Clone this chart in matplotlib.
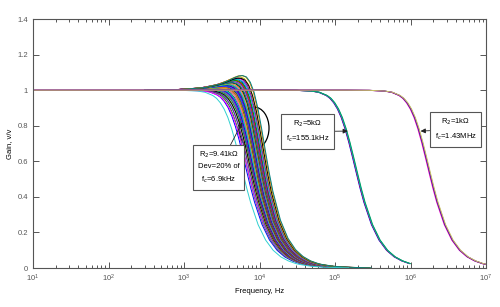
import matplotlib
matplotlib.use("Agg")
import matplotlib.pyplot as plt
from matplotlib.patches import Ellipse
from matplotlib.ticker import FuncFormatter, LogLocator, MultipleLocator
import numpy as np

plt.rcParams["font.family"] = ["Liberation Sans", "DejaVu Sans"]

# normalised low-pass response: log10(f/f0) -> gain
shape_logu = [-6.0, -1.0, -0.7, -0.5, -0.4, -0.3, -0.25, -0.2, -0.15, -0.1, -0.05,
              0.0, 0.05, 0.1, 0.15, 0.2, 0.3, 0.4, 0.5, 0.6, 0.7, 0.8, 0.85,
              1.0, 1.2, 1.5]
shape_flat = [1.0, 1.0, 0.999, 0.995, 0.988, 0.970, 0.954, 0.929, 0.894, 0.846, 0.783,
              0.707, 0.622, 0.534, 0.448, 0.370, 0.244, 0.157, 0.0995, 0.063, 0.040,
              0.025, 0.020, 0.010, 0.004, 0.001]
shape_peak = [1.0, 1.004, 1.015, 1.035, 1.052, 1.072, 1.080, 1.082, 1.074, 1.045, 0.989,
              0.900, 0.785, 0.660, 0.538, 0.431, 0.269, 0.167, 0.1035, 0.0645, 0.040,
              0.025, 0.020, 0.010, 0.004, 0.001]

# Monte Carlo bundle, R2 = 9.41 kOhm +/- 20 %
g1_f0_khz = [4.8, 5.4, 5.6, 5.7, 5.8, 5.9, 6.0, 6.1, 6.2, 6.25, 6.3, 6.4, 6.45, 6.5,
             6.6, 6.65, 6.7, 6.8, 6.85, 6.9, 7.0, 7.05, 7.1, 7.2, 7.25, 7.3, 7.4,
             7.45, 7.5, 7.6, 7.7, 7.75, 7.8, 7.9, 8.0, 8.1, 8.2, 8.3, 8.4, 8.5, 8.6,
             8.75, 8.9, 9.1, 9.3, 9.5]
g1_peak = [0.0, 0.05, 0.1, 0.0, 0.15, 0.1, 0.2, 0.15, 0.25, 0.2, 0.3, 0.25, 0.35, 0.3,
           0.35, 0.4, 0.3, 0.45, 0.4, 0.5, 0.45, 0.5, 0.55, 0.5, 0.6, 0.55, 0.6,
           0.65, 0.6, 0.7, 0.65, 0.7, 0.75, 0.7, 0.8, 0.75, 0.8, 0.85, 0.8, 0.9, 0.85,
           0.9, 0.95, 0.9, 1.0, 1.0]
g1_start_hz = 330

# R2 = 5 kOhm and R2 = 1 kOhm, small spread
g2_f0_hz = [152e3, 154e3, 155.1e3, 156e3, 158e3]
g2_start_hz = 300
g3_f0_hz = [1.40e6, 1.42e6, 1.43e6, 1.44e6, 1.46e6]
g3_start_hz = 10

bundle_colors = ["#ff0000", "#0000ff", "#00a000", "#ff00ff", "#00c8c8", "#8000a0",
                 "#c8c800", "#000000", "#e08000", "#008080", "#a00000", "#4040ff"]
g2_colors = ["#0000ff", "#ff0000", "#8000a0", "#00c8c8", "#00a060"]
g3_colors = ["#ff00ff", "#e08000", "#0000ff", "#8000a0", "#c8c860"]

logu = np.array(shape_logu)
flat = np.array(shape_flat)
peak = np.array(shape_peak)

fig = plt.figure(figsize=(5.0, 3.07), dpi=100)
ax = fig.add_axes([0.066, 0.127, 0.906, 0.811])

order = list(range(len(g1_f0_khz)))
order = order[1:] + order[:1]
for i in order:
    f = g1_f0_khz[i] * 1e3 * 10 ** logu
    f[0] = g1_start_hz
    g = (1 - g1_peak[i]) * flat + g1_peak[i] * peak
    c = "#30d0d0" if i == 0 else bundle_colors[i % len(bundle_colors)]
    ax.plot(f, g, color=c, lw=0.7)

cut = shape_logu.index(0.8) + 1
for f0, c in zip(g2_f0_hz, g2_colors):
    f = f0 * 10 ** logu[:cut]
    f[0] = g2_start_hz
    ax.plot(f, flat[:cut], color=c, lw=0.7)

cut3 = shape_logu.index(0.85) + 1
for f0, c in zip(g3_f0_hz, g3_colors):
    f = f0 * 10 ** logu[:cut3]
    f[0] = g3_start_hz
    ax.plot(f, flat[:cut3], color=c, lw=0.7)

ax.set_xscale("log")
ax.set_xlim(10, 1e7)
ax.set_ylim(0, 1.4)
ax.yaxis.set_major_locator(MultipleLocator(0.2))
ax.yaxis.set_major_formatter(FuncFormatter(lambda v, p: f"{v:g}"))
ax.xaxis.set_minor_locator(LogLocator(base=10, subs=np.arange(2, 10), numticks=20))
ax.tick_params(which="both", direction="in", top=True, right=True,
               colors="#555555", labelsize=5.5, width=0.7)
ax.tick_params(which="major", length=4)
ax.tick_params(which="minor", length=2.5)
for s in ax.spines.values():
    s.set_color("#555555")
    s.set_linewidth(0.8)
ax.set_xlabel("Frequency, Hz", fontsize=5.5, labelpad=3)
ax.set_ylabel("Gain, v/v", fontsize=5.5, labelpad=3)

ax.add_patch(Ellipse((0.488, 0.562), 0.066, 0.169, transform=ax.transAxes,
                     fill=False, ec="black", lw=0.9))

box = dict(boxstyle="square,pad=0.6", fc="white", ec="#555555", lw=0.8)
arrow = dict(arrowstyle="-|>", color="#222222", lw=0.6, mutation_scale=7,
             shrinkA=0, shrinkB=0)
ax.annotate("R$_2$=9.41kΩ\nDev=20% of\nf$_c$=6.9kHz", xy=(0.462, 0.585),
            xycoords="axes fraction", xytext=(0.410, 0.404),
            textcoords="axes fraction", fontsize=5.5, ha="center", va="center",
            linespacing=1.6, bbox=box, arrowprops=arrow)
ax.annotate("R$_2$=5kΩ\nf$_c$=155.1kHz", xy=(148e3, 0.77), xytext=(0.606, 0.548),
            textcoords="axes fraction", fontsize=5.5, ha="center", va="center",
            linespacing=1.6, bbox=box, arrowprops=arrow)
ax.annotate("R$_2$=1kΩ\nf$_c$=1.43MHz", xy=(1.36e6, 0.77), xytext=(0.933, 0.556),
            textcoords="axes fraction", fontsize=5.5, ha="center", va="center",
            linespacing=1.6, bbox=box, arrowprops=arrow)

fig.savefig("out.png", dpi=100)
